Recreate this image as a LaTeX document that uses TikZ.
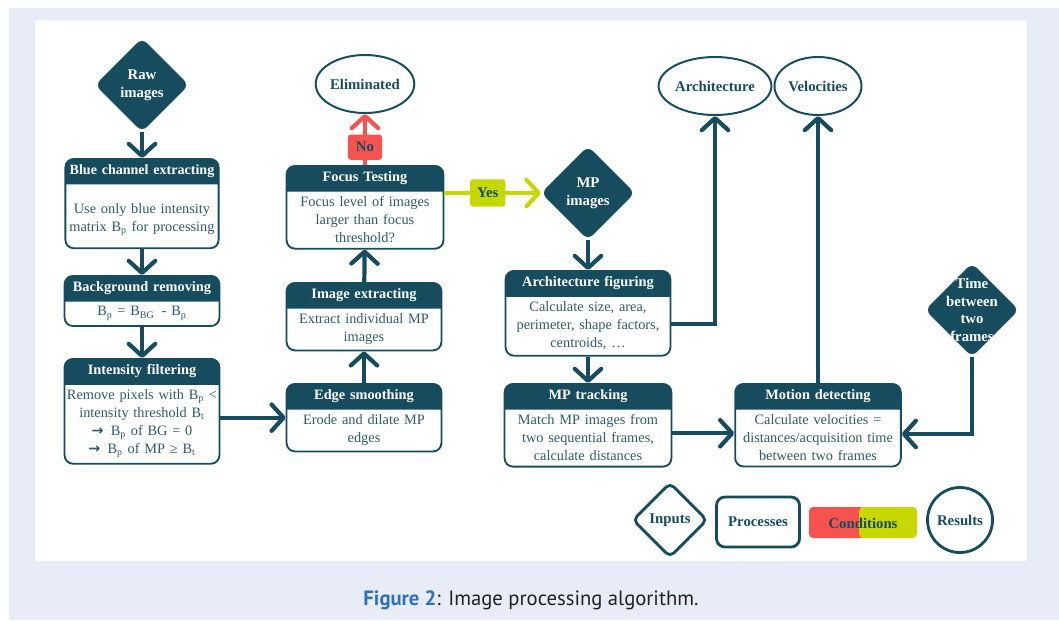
\documentclass[tikz,border=0pt]{standalone}
\usepackage{fontspec}
\setmainfont{Liberation Serif}
\newfontfamily\capfont{PT Sans}
\newfontfamily\arrfont{DejaVu Sans}
\usetikzlibrary{shapes.geometric,shapes.multipart,arrows.meta,positioning}
\hyphenpenalty=10000
\exhyphenpenalty=10000

\definecolor{dark}{RGB}{22,76,94}
\definecolor{bodytxt}{RGB}{45,92,106}
\definecolor{nored}{RGB}{246,82,80}
\definecolor{yesgreen}{RGB}{198,216,0}
\definecolor{panel}{RGB}{232,236,246}
\definecolor{capblue}{RGB}{47,113,183}

\tikzset{
	proc/.style={rectangle split, rectangle split parts=2, draw=dark, line width=1.3pt,
		rounded corners=6pt, rectangle split part fill={dark,white}, align=center,
		text width=#1, inner xsep=1pt, inner ysep=3.5pt, anchor=north, text=bodytxt,
		font=\fontsize{10.2}{12.8}\selectfont},
	inp/.style={diamond, fill=dark, rounded corners=5pt, inner sep=0pt,
		minimum width=2.35cm, minimum height=2.35cm},
	inplab/.style={text=white, align=center, font=\fontsize{10.5}{12.6}\selectfont\bfseries},
	res/.style={ellipse, draw=dark, line width=1.4pt, minimum height=1.45cm, inner sep=0pt,
		text=dark, font=\fontsize{10.5}{12}\selectfont\bfseries},
	arr/.style={draw=dark, line width=3pt, -{Straight Barb[length=3mm,width=6.6mm,round]}},
	noarr/.style={arr, draw=nored},
	yesarr/.style={arr, draw=yesgreen},
	nolab/.style={fill=nored, rounded corners=2pt, text=dark, minimum width=0.85cm,
		minimum height=0.63cm, inner sep=0pt, font=\fontsize{10.5}{12}\selectfont\bfseries},
	yeslab/.style={nolab, fill=yesgreen, minimum width=0.88cm, minimum height=0.68cm},
	legd/.style={draw=dark, line width=2pt, text=dark, inner sep=0pt,
		font=\fontsize{10.5}{12}\selectfont\bfseries}
}

\begin{document}
\begin{tikzpicture}[x=0.025cm,y=-0.025cm]
	\useasboundingbox (0,0) rectangle (1059,620);
	\fill[panel] (9,8) rectangle (1059,620);
	\fill[white] (35,20) rectangle (1027,561);

	% left column
	\node	(raw) at (142,85) [inp, label={[inplab]center:Raw\\images}] {};
	\node	(bce) at (142,158) [proc=3.76cm] {\textcolor{white}{\bfseries\fontsize{10}{12}\selectfont Blue channel extracting}\nodepart{two}\rule{0pt}{17pt}Use only blue intensity\\matrix B\textsubscript{p} for processing\rule[-8pt]{0pt}{0pt}};
	\node	(bgr) at (142,275) [proc=3.8cm] {\textcolor{white}{\bfseries Background removing}\nodepart{two}B\textsubscript{p} = B\textsubscript{BG}\, - B\textsubscript{p}};
	\node	(itf) at (142,358) [proc=3.8cm] {\textcolor{white}{\bfseries Intensity filtering}\nodepart{two}Remove pixels with B\textsubscript{p} <\\intensity threshold B\textsubscript{t}\\{\arrfont\bfseries →}\enspace B\textsubscript{p} of BG = 0\\{\arrfont\bfseries →}\enspace B\textsubscript{p} of MP ≥ B\textsubscript{t}};

	% middle column
	\node	(eds) at (364,383) [proc=3.8cm] {\textcolor{white}{\bfseries Edge smoothing}\nodepart{two}Erode and dilate MP\\edges};
	\node	(imx) at (364,282) [proc=3.8cm] {\textcolor{white}{\bfseries Image extracting}\nodepart{two}Extract individual MP\\images};
	\node	(fct) at (365,165) [proc=3.85cm] {\textcolor{white}{\bfseries Focus Testing}\nodepart{two}Focus level of images\\larger than focus\\threshold?};
	\node	(elim) at (365,84) [res, minimum width=2.25cm] {Eliminated};

	% right part
	\node	(mpi) at (588,193) [inp, label={[inplab]center:MP\\images}] {};
	\node	(arf) at (588,270) [proc=4.05cm] {\textcolor{white}{\bfseries Architecture figuring}\nodepart{two}Calculate size, area,\\perimeter, shape factors,\\centroids, …};
	\node	(mpt) at (588,383) [proc=4.1cm] {\textcolor{white}{\bfseries MP tracking}\nodepart{two}Match MP images from\\two sequential frames,\\calculate distances};
	\node	(arc) at (715,86) [res, minimum width=2.375cm] {Architecture};
	\node	(vel) at (818,86) [res, minimum width=2.175cm] {Velocities};
	\node	(mod) at (818,383) [proc=4.07cm] {\textcolor{white}{\bfseries Motion detecting}\nodepart{two}Calculate velocities =\\distances/acquisition time\\between two frames};
	\node	(tbf) at (972,310) [inp, label={[inplab]center:Time\\between\\two\\frames}] {};

	\draw
	(raw) edge[arr] (bce)
	(bce) edge[arr] (bgr)
	(bgr) edge[arr] (itf)
	(itf.east |- eds.west) edge[arr] (eds.west)
	(eds) edge[arr] (imx)
	(imx) edge[arr] (fct)
	(fct) edge[noarr] node[nolab, pos=0.35] {No} (elim)
	(fct.east |- mpi) edge[yesarr] node[yeslab, pos=0.45] {Yes} (mpi.west)
	(mpi) edge[arr] (arf)
	(arf) edge[arr] (mpt)
	([yshift=-0.2cm]mpt.east) edge[arr] ([yshift=-0.2cm]mpt.east -| mod.west)
	(vel |- mod.north) edge[arr] (vel)
	;
	\draw[arr] ([yshift=-0.27cm]arf.east) -| (arc);
	\draw[arr] (tbf) |- ([yshift=-0.22cm]mod.east);

	% legend
	\node	(linp) at (670,520) [legd, diamond, rounded corners=4pt, minimum width=1.875cm, minimum height=1.875cm] {Inputs};
	\node	(lprc) at (758,522) [legd, rectangle, rounded corners=6pt, minimum width=2.075cm, minimum height=1.25cm] {Processes};
	\fill[nored, rounded corners=3pt] (809,507) rectangle (865,538);
	\fill[yesgreen, rounded corners=3pt] (859,507) rectangle (917,538);
	\node	(lcnd) at (863,523) [text=dark, font=\fontsize{10.5}{12}\selectfont\bfseries] {Conditions};
	\node	(lres) at (960,520) [legd, circle, minimum size=1.625cm] {Results};

	% caption
	\node	(cap) at (531,600) [text={rgb,255:red,34;green,34;blue,34}, font=\capfont\fontsize{14.7}{17}\selectfont] {\textcolor{capblue}{\bfseries Figure 2}: Image processing algorithm.};
\end{tikzpicture}
\end{document}
